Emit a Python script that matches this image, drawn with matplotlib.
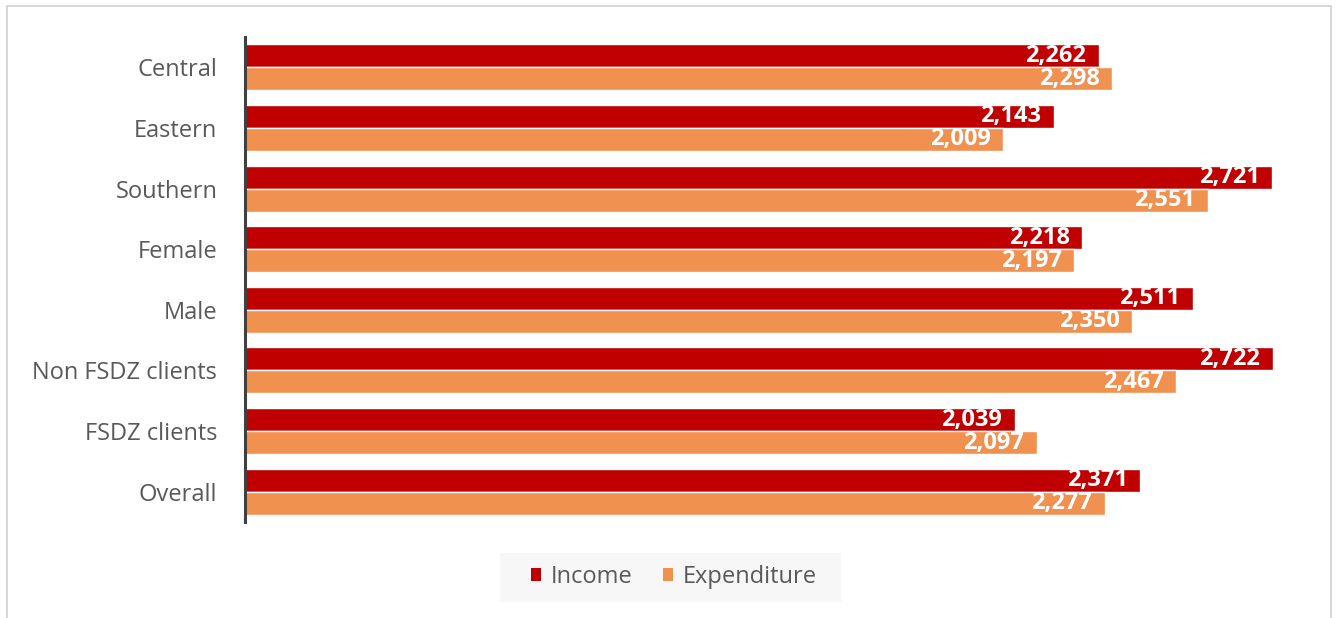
import matplotlib
matplotlib.use("Agg")
import matplotlib.pyplot as plt
from matplotlib.patches import Rectangle
import numpy as np

categories = ["Central", "Eastern", "Southern", "Female", "Male",
              "Non FSDZ clients", "FSDZ clients", "Overall"]
income = [2262, 2143, 2721, 2218, 2511, 2722, 2039, 2371]
expenditure = [2298, 2009, 2551, 2197, 2350, 2467, 2097, 2277]

INCOME_COLOR = "#C00000"
EXPEND_COLOR = "#F0914F"
TEXT_COLOR = "#595959"

plt.rcParams["font.family"] = ["Open Sans", "DejaVu Sans"]

W, H = 1338, 618
fig = plt.figure(figsize=(W / 100, H / 100), dpi=100)
ax = fig.add_axes([245 / W, 96 / H, 1057 / W, 485 / H])

y = np.arange(len(categories))
bh = 0.38
b_inc = ax.barh(y - bh / 2, income, height=bh, color=INCOME_COLOR,
                edgecolor="white", linewidth=1, label="Income")
b_exp = ax.barh(y + bh / 2, expenditure, height=bh, color=EXPEND_COLOR,
                edgecolor="white", linewidth=1, label="Expenditure")

for bars, vals in ((b_inc, income), (b_exp, expenditure)):
    labels = ax.bar_label(bars, labels=[f"{v:,}" for v in vals], padding=-9,
                          color="white", fontweight="bold", fontsize=17)
    for t in labels:
        t.set_ha("right")

ax.set_ylim(len(categories) - 0.5, -0.5)
ax.set_xlim(0, 2800)
ax.set_yticks(y)
ax.set_yticklabels(categories, fontsize=17, color=TEXT_COLOR)
ax.tick_params(axis="y", length=0, pad=20)
ax.set_xticks([])
for side in ("top", "right", "bottom"):
    ax.spines[side].set_visible(False)
ax.spines["left"].set_color("#404040")
ax.spines["left"].set_linewidth(2.2)

# legend background panel
fig.patches.append(Rectangle((500 / W, 1 - 602 / H), 341 / W, 49 / H,
                             transform=fig.transFigure, facecolor="#F7F7F7",
                             edgecolor="none", zorder=0))
leg = fig.legend(handles=[b_inc, b_exp], labels=["Income", "Expenditure"],
                 loc="center", bbox_to_anchor=(674 / W, 1 - 577 / H),
                 ncol=2, frameon=False, fontsize=17, handlelength=0.42,
                 handleheight=0.42, handletextpad=0.4, columnspacing=1.3)
for txt in leg.get_texts():
    txt.set_color(TEXT_COLOR)
for h in leg.legend_handles:
    h.set_edgecolor("none")

# light frame around the chart area
fig.patches.append(Rectangle((7 / W, -0.05), (1331 - 7) / W, 1.05 - 6 / H,
                             transform=fig.transFigure, fill=False,
                             edgecolor="#D0D0D0", linewidth=1.2))

fig.savefig("out.png", dpi=100)
